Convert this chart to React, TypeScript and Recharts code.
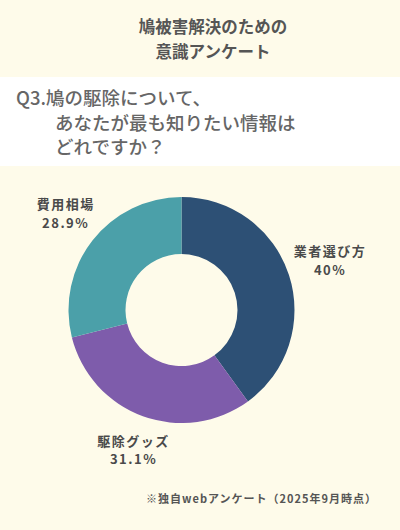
import React from "react";
import { PieChart, Pie, Cell } from "recharts";

const categories = ["業者選び方", "駆除グッズ", "費用相場"];
const values = [40, 31.1, 28.9];
const valueLabels = ["40%", "31.1%", "28.9%"];
const colors = ["#2D5075", "#7E5CAB", "#4BA0A9"];

const titleLines = ["鳩被害解決のための", "意識アンケート"];
const questionLines = ["Q3.鳩の駆除について、", "あなたが最も知りたい情報は", "どれですか？"];
const footnote = "※独自webアンケート（2025年9月時点）";

const data = categories.map((name, i) => ({ name, value: values[i], label: valueLabels[i] }));

const FONT = "'Noto Sans CJK JP', 'Noto Sans', sans-serif";
const RAD = Math.PI / 180;

const renderLabel = (props: any) => {
  const { cx, cy, midAngle, outerRadius, index } = props;
  const r = outerRadius + 39;
  const cos = Math.cos(-midAngle * RAD);
  const sin = Math.sin(-midAngle * RAD);
  const x = cx + r * cos + 4;
  const y = cy + r * sin - 4;
  return (
    <text
      x={x}
      y={y}
      textAnchor="middle"
      fill="#4a4a4a"
      fontFamily={FONT}
      fontWeight={700}
      fontSize={13}
      letterSpacing={1.5}
    >
      <tspan x={x} dy={-3}>{data[index].name}</tspan>
      <tspan x={x} dy={18.5}>{data[index].label}</tspan>
    </text>
  );
};

export default function App() {
  return (
    <div
      style={{
        position: "fixed",
        left: 0,
        top: 0,
        width: 400,
        height: 530,
        background: "#FEFBEA",
        fontFamily: FONT,
        overflow: "hidden",
      }}
    >
      <div
        style={{
          position: "absolute",
          left: 0,
          top: 14,
          width: 426,
          textAlign: "center",
          color: "#555",
          fontSize: 16.5,
          fontWeight: 700,
          lineHeight: "25px",
        }}
      >
        {titleLines.map((t, i) => (
          <div key={i}>{t}</div>
        ))}
      </div>
      <div
        style={{
          position: "absolute",
          left: 0,
          top: 77,
          width: 400,
          height: 89,
          background: "#FFFFFF",
        }}
      />
      <div
        style={{
          position: "absolute",
          left: 16,
          top: 85,
          color: "#666",
          fontSize: 18.5,
          fontWeight: 500,
          lineHeight: "24.5px",
        }}
      >
        {questionLines.map((t, i) => (
          <div key={i} style={{ paddingLeft: i === 0 ? 0 : 39 }}>
            {t}
          </div>
        ))}
      </div>
      <div style={{ position: "absolute", left: 0, top: 0 }}>
        <PieChart width={400} height={530} margin={{ top: 0, right: 0, bottom: 0, left: 0 }}>
          <Pie
            data={data}
            dataKey="value"
            cx={181.5}
            cy={310}
            innerRadius={56}
            outerRadius={113}
            startAngle={90}
            endAngle={-270}
            stroke="none"
            label={renderLabel}
            labelLine={false}
            isAnimationActive={false}
          >
            {data.map((d, i) => (
              <Cell key={d.name} fill={colors[i]} />
            ))}
          </Pie>
        </PieChart>
      </div>
      <div
        style={{
          position: "absolute",
          right: 23,
          top: 490,
          color: "#555",
          fontSize: 11,
          fontWeight: 700,
          letterSpacing: 1.0,
          whiteSpace: "nowrap",
        }}
      >
        {footnote}
      </div>
    </div>
  );
}
